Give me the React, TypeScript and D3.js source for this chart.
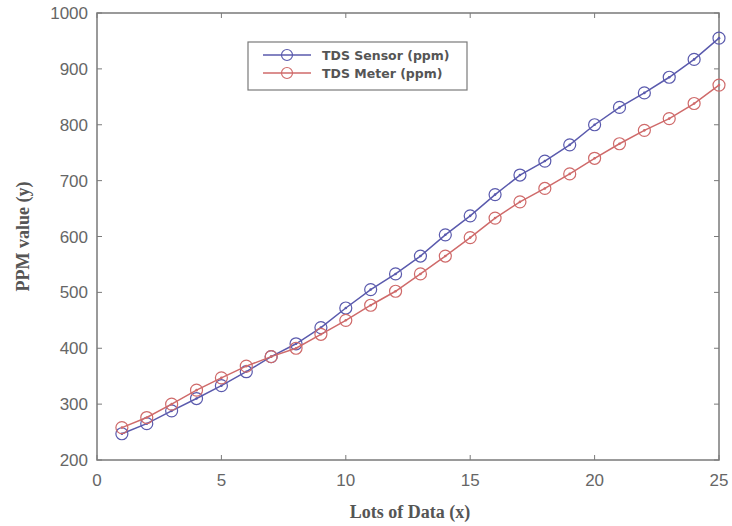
import React from "react";
import * as d3 from "d3";

const lots = d3.range(1, 26);
const sensor = [247, 265, 288, 310, 333, 358, 385, 408, 437, 472, 505, 533, 565, 603, 637, 675, 710, 735, 764, 800, 831, 857, 885, 917, 955];
const meter = [258, 276, 300, 325, 347, 368, 385, 400, 425, 450, 477, 502, 533, 565, 598, 633, 662, 686, 712, 740, 766, 790, 811, 838, 871];
const xTicks = [0, 5, 10, 15, 20, 25];
const yTicks = [200, 300, 400, 500, 600, 700, 800, 900, 1000];
const seriesNames = ["TDS Sensor (ppm)", "TDS Meter (ppm)"];

const blue = "#5a5aad";
const red = "#cf6a6a";
const axisColor = "#7a7a7a";

const App = () => {
    const width = 732
    const height = 526
    const left = 97, right = 719, top = 13, bottom = 460

    const x = d3.scaleLinear().domain([0, 25]).range([left, right])
    const y = d3.scaleLinear().domain([200, 1000]).range([bottom, top])
    const line = d3.line<number>().x((_, i) => x(lots[i])).y(d => y(d))

    const series = [
        { name: seriesNames[0], values: sensor, color: blue },
        { name: seriesNames[1], values: meter, color: red },
    ]

    return (
        <svg width={width} height={height} style={{ position: "absolute", left: 0, top: 0, background: "#fff" }}>
            <rect x={left} y={top} width={right - left} height={bottom - top} fill="none" stroke={axisColor} strokeWidth="1.5" />
            {xTicks.map(t => (
                <g key={"x" + t}>
                    <line x1={x(t)} x2={x(t)} y1={bottom} y2={bottom - 5} stroke={axisColor} />
                    <line x1={x(t)} x2={x(t)} y1={top} y2={top + 5} stroke={axisColor} />
                    <text x={x(t)} y={486} fontSize="17" textAnchor="middle" fill="#666"
                        fontFamily="Liberation Sans, Arial, sans-serif">{t}</text>
                </g>
            ))}
            {yTicks.map(t => (
                <g key={"y" + t}>
                    <line x1={left} x2={left + 5} y1={y(t)} y2={y(t)} stroke={axisColor} />
                    <line x1={right} x2={right - 5} y1={y(t)} y2={y(t)} stroke={axisColor} />
                    <text x={88} y={y(t) + 6} fontSize="17" textAnchor="end" fill="#666"
                        fontFamily="Liberation Sans, Arial, sans-serif">{t}</text>
                </g>
            ))}
            <text x={(left + right) / 2 + 2} y={518} fontSize="18" fontWeight="bold" textAnchor="middle" fill="#555"
                fontFamily="Liberation Serif, Times New Roman, serif">Lots of Data (x)</text>
            <text transform={`translate(29, ${(top + bottom) / 2}) rotate(-90)`} fontSize="18" fontWeight="bold" textAnchor="middle" fill="#555"
                fontFamily="Liberation Serif, Times New Roman, serif">PPM value (y)</text>

            {series.map(s => (
                <g key={s.name}>
                    <path d={line(s.values) ?? ""} fill="none" stroke={s.color} strokeWidth="1.5" />
                    {s.values.map((v, i) => (
                        <circle key={i} cx={x(lots[i])} cy={y(v)} r="6" fill="none" stroke={s.color} strokeWidth="1.2" />
                    ))}
                    {s.values.map((v, i) => (
                        <circle key={"d" + i} cx={x(lots[i])} cy={y(v)} r="1.3" fill={s.color} />
                    ))}
                </g>
            ))}

            <rect x={248} y={42} width={219} height={48} fill="#fff" stroke={axisColor} strokeWidth="1.2" />
            {series.map((s, i) => (
                <g key={"l" + i}>
                    <line x1={263} x2={311} y1={55 + i * 18} y2={55 + i * 18} stroke={s.color} strokeWidth="1.5" />
                    <circle cx={287} cy={55 + i * 18} r="5.5" fill="none" stroke={s.color} strokeWidth="1.2" />
                    <text x={322} y={60 + i * 18} fontSize="12.5" fontWeight="bold" fill="#555"
                        fontFamily="DejaVu Sans, Verdana, sans-serif">{s.name}</text>
                </g>
            ))}
        </svg>
    )
}

export default App;
